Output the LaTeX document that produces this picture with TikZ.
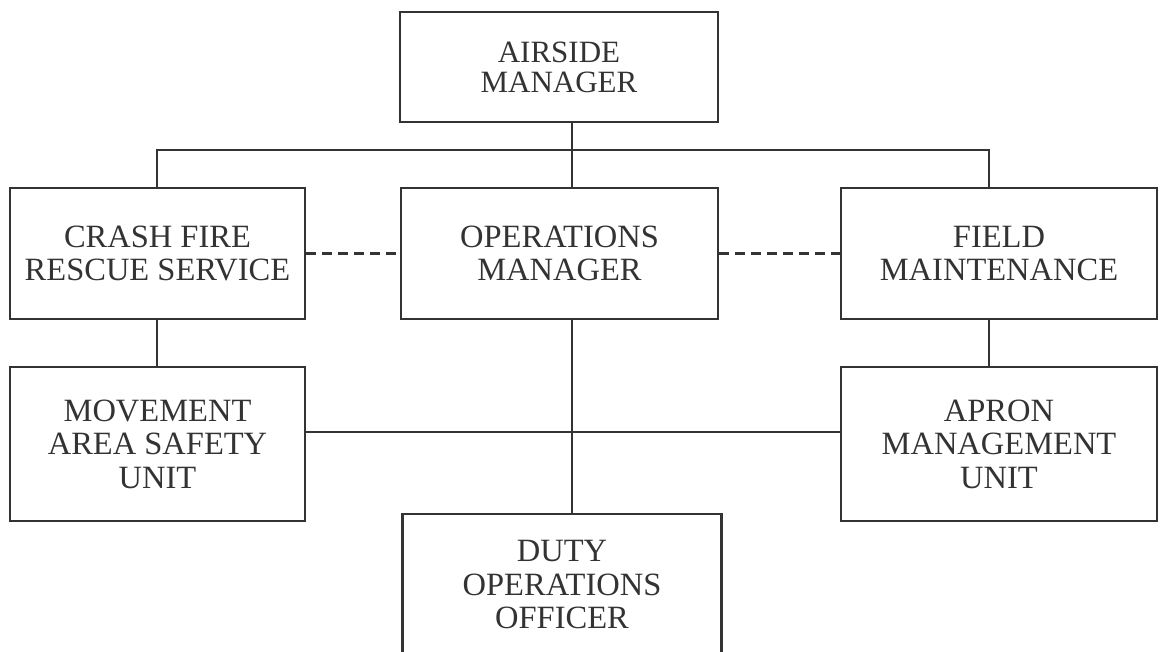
\documentclass[tikz,border=0pt]{standalone}
\usepackage{fontspec}
\setmainfont{Liberation Serif}
\definecolor{ink}{HTML}{333333}
\begin{document}
\begin{tikzpicture}[x=1pt,y=-1pt,
  orgbox/.style={draw=ink,line width=2.6pt,fill=white,align=center,text=ink,
    font=\fontsize{32.5}{33.5}\selectfont,inner sep=0pt},
  link/.style={draw=ink,line width=2.4pt},
  dotlink/.style={draw=ink,line width=2.6pt,dash pattern=on 10pt off 6pt}]
\useasboundingbox (0,0) rectangle (1160,652);
\clip (0,0) rectangle (1160,652);
\fill[white] (0,0) rectangle (1160,652);
\coordinate (spine) at (572,0);
\node[orgbox,minimum width=318pt,minimum height=110pt,font=\fontsize{31}{30}\selectfont] (airside) at (559,67) {AIRSIDE\\MANAGER};
\node[orgbox,minimum width=295pt,minimum height=131pt] (cfrs) at (157.5,253.5) {CRASH FIRE\\RESCUE SERVICE};
\node[orgbox,minimum width=317pt,minimum height=131pt] (ops) at (559.5,253.5) {OPERATIONS\\MANAGER};
\node[orgbox,minimum width=316pt,minimum height=131pt] (field) at (999,253.5) {FIELD\\MAINTENANCE};
\node[orgbox,minimum width=295pt,minimum height=154pt] (masu) at (157.5,444) {MOVEMENT\\AREA SAFETY\\UNIT};
\node[orgbox,minimum width=316pt,minimum height=154pt] (apron) at (999,444) {APRON\\MANAGEMENT\\UNIT};
\node[orgbox,minimum width=319pt,minimum height=142pt] (duty) at (562,585) {DUTY\\OPERATIONS\\OFFICER};
\coordinate (busl) at (157,150);
\coordinate (busr) at (989,150);
\coordinate (midrow) at (0,432);
\draw[link] (airside.south -| spine) -- (ops.north -| spine);
\draw[link] (cfrs.north -| busl) -- (busl) -- (busr) -- (field.north -| busr);
\draw[link] (ops.south -| spine) -- (duty.north -| spine);
\draw[link] (cfrs.south -| busl) -- (masu.north -| busl);
\draw[link] (field.south -| busr) -- (apron.north -| busr);
\draw[link] (masu.east |- midrow) -- (apron.west |- midrow);
\draw[dotlink] (cfrs.east) -- (ops.west);
\draw[dotlink] (ops.east) -- (field.west);
\end{tikzpicture}
\end{document}
